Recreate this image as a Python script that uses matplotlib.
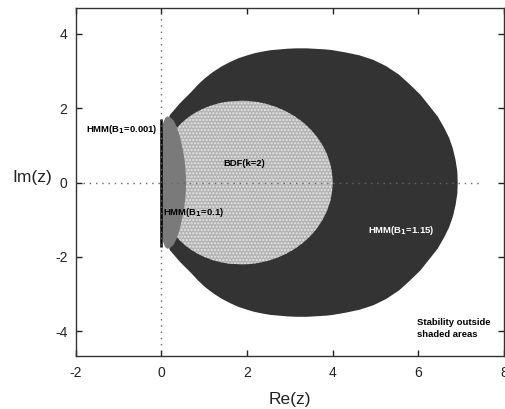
import numpy as np
import matplotlib
matplotlib.use("Agg")
import matplotlib.pyplot as plt

plt.rcParams['font.family'] = ['Liberation Sans', 'DejaVu Sans']
plt.rcParams['axes.unicode_minus'] = False
plt.rcParams['hatch.linewidth'] = 1.0

# Upper-half boundary points (regions are symmetric about the real axis)
hmm115_re = [0.0, 0.02, 0.10, 0.20, 0.43, 0.70, 0.86, 1.02, 1.20, 1.40, 1.60, 1.79, 2.00,
             2.18, 2.35, 2.55, 2.75, 2.95, 3.15, 3.40, 3.55, 3.85, 4.00, 4.30, 4.63, 4.95,
             5.25, 5.55, 5.80, 6.05, 6.25, 6.45, 6.60, 6.72, 6.81, 6.87, 6.91, 6.92]
hmm115_im = [0.0, 0.80, 1.50, 1.82, 2.13, 2.44, 2.64, 2.81, 2.97, 3.12, 3.24, 3.34, 3.42,
             3.48, 3.52, 3.56, 3.58, 3.60, 3.61, 3.61, 3.60, 3.58, 3.56, 3.50, 3.42, 3.30,
             3.13, 2.90, 2.64, 2.36, 2.07, 1.78, 1.48, 1.20, 0.90, 0.60, 0.30, 0.0]

bdf2_re = [0.0, 0.0002, 0.0036, 0.018, 0.0548, 0.1276, 0.25, 0.3334, 0.433, 0.5494, 0.683,
           0.8333, 1.0, 1.1819, 1.377, 1.5846, 1.866, 2.0238, 2.25, 2.4762, 2.699, 2.9142,
           3.119, 3.3094, 3.482, 3.634, 3.762, 3.8649, 3.939, 3.9848, 4.0]
bdf2_im = [0.0, 0.176, 0.363, 0.567, 0.793, 1.040, 1.299, 1.4296, 1.558, 1.6819, 1.799,
           1.9056, 2.0, 2.0792, 2.141, 2.1819, 2.20, 2.1956, 2.165, 2.1082, 2.024, 1.9142,
           1.778, 1.617, 1.433, 1.2282, 1.005, 0.7676, 0.518, 0.2611, 0.0]

hmm01_re = [0.0, 0.0, 0.01, 0.04, 0.09, 0.14, 0.20, 0.28, 0.36, 0.43, 0.48, 0.53, 0.56, 0.58]
hmm01_im = [0.0, 0.8, 1.3, 1.6, 1.74, 1.78, 1.76, 1.68, 1.50, 1.25, 1.00, 0.70, 0.40, 0.0]

hmm0001_re = [0.0, 0.0]
hmm0001_im = [-1.72, 1.72]

xticks = [-2, 0, 2, 4, 6, 8]
yticks = [-4, -2, 0, 2, 4]


def closed(re, im):
    re = np.asarray(re, float)
    im = np.asarray(im, float)
    x = np.concatenate([re, re[::-1]])
    y = np.concatenate([im, -im[::-1]])
    return x, y


fig = plt.figure(figsize=(5.05, 4.09), dpi=100)
ax = fig.add_axes([0.150, 0.130, 0.848, 0.850])

x, y = closed(hmm115_re, hmm115_im)
ax.fill(x, y, facecolor='#333333', edgecolor='none', zorder=1)

x, y = closed(bdf2_re, bdf2_im)
ax.fill(x, y, facecolor='#b4b4b4', edgecolor='none', zorder=2)
ax.fill(x, y, facecolor='none', edgecolor='#e6e6e6', hatch='.....', linewidth=0, zorder=2.1)

x, y = closed(hmm01_re, hmm01_im)
ax.fill(x, y, facecolor='#7a7a7a', edgecolor='none', zorder=3)

ax.plot(hmm0001_re, hmm0001_im, color='black', linewidth=1.8, solid_capstyle='butt', zorder=4)

ax.plot([-1.82, 7.45], [0, 0], color='#666666', linewidth=1.0, linestyle=(0, (1, 3.5)), zorder=5)
ax.plot([0, 0], [-4.38, 4.56], color='#666666', linewidth=1.0, linestyle=(0, (1, 3.5)), zorder=5)

tk = dict(fontsize=6.8, fontweight='bold')
ax.text(-1.76, 1.44, r'HMM(B$_\mathbf{1}$=0.001)', ha='left', va='center', color='black', **tk)
ax.text(1.44, 0.50, 'BDF(k=2)', ha='left', va='center', color='black', **tk)
ax.text(0.04, -0.81, r'HMM(B$_\mathbf{1}$=0.1)', ha='left', va='center', color='black', **tk)
ax.text(4.83, -1.28, r'HMM(B$_\mathbf{1}$=1.15)', ha='left', va='center', color='white', **tk)
ax.text(5.97, -3.92, 'Stability outside\nshaded areas', ha='left', va='center',
        color='black', linespacing=1.45, **tk)

ax.set_xlim(-2, 8)
ax.set_ylim(-4.66, 4.69)
ax.set_xticks(xticks)
ax.set_yticks(yticks)
ax.tick_params(direction='in', length=4, width=1, top=True, right=True,
               labelsize=10, colors='#222222')
ax.tick_params(axis='x', pad=7)
ax.tick_params(axis='y', pad=6)
for s in ax.spines.values():
    s.set_color('#333333')
    s.set_linewidth(1.0)

ax.set_xlabel('Re(z)', fontsize=12.5, labelpad=9, color='#222222')
fig.text(0.063, 0.567, 'Im(z)', fontsize=12.5, ha='center', va='center', color='#222222')

fig.savefig('out.png', dpi=100)
